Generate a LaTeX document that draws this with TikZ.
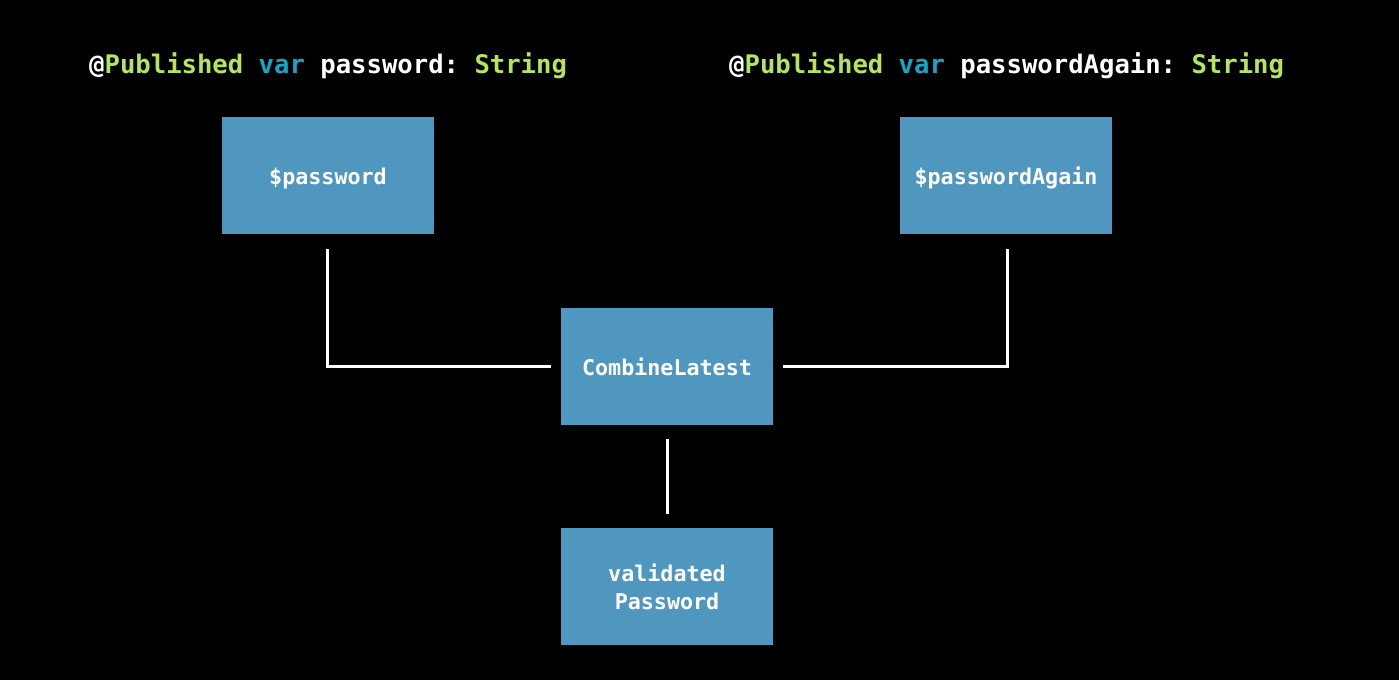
\documentclass[tikz,border=0pt]{standalone}
\usepackage{fontspec}
\setmonofont{DejaVu Sans Mono}
\usetikzlibrary{calc}
\definecolor{boxblue}{HTML}{4F97BF}
\definecolor{kwgreen}{HTML}{B3E65A}
\definecolor{kwcyan}{HTML}{14A8C8}
\newcommand{\lowered}[1]{\raisebox{-3pt}[0.75em][0.2em]{#1}}
\tikzset{
  opbox/.style={fill=boxblue, draw=none, minimum width=212pt, minimum height=117pt, inner sep=0pt,
    text=white, font=\ttfamily\bfseries\fontsize{21.7}{28}\selectfont, align=center},
  decl/.style={anchor=west, inner sep=0pt, text=white, font=\ttfamily\bfseries\fontsize{25.6}{30}\selectfont},
  wire/.style={draw=white, line width=3pt}
}
\begin{document}
\begin{tikzpicture}[x=1pt,y=-1pt]
\fill[black] (0,0) rectangle (1399,680);
\useasboundingbox (0,0) rectangle (1399,680);
\node[decl] (d1) at (89,65.5) {@\textcolor{kwgreen}{Published} \textcolor{kwcyan}{var} password: \textcolor{kwgreen}{String}};
\node[decl] (d2) at (729,65.5) {@\textcolor{kwgreen}{Published} \textcolor{kwcyan}{var} passwordAgain: \textcolor{kwgreen}{String}};
\node[opbox] (pw) at (328,175.5) {\lowered{\$password}};
\node[opbox] (pa) at (1006,175.5) {\lowered{\$passwordAgain}};
\node[opbox] (cl) at (667,366.5) {\lowered{CombineLatest}};
\node[opbox] (vp) at (667,586.5) {validated\\Password};
\draw[wire] ([yshift=-15pt]pw.south -| 327,0) |- ([xshift=-10pt]cl.west);
\draw[wire] ([yshift=-15pt]pa.south -| 1007.5,0) |- ([xshift=10pt]cl.east);
\draw[wire] ([yshift=-14pt]cl.south) -- ([yshift=14pt]vp.north);
\end{tikzpicture}
\end{document}
